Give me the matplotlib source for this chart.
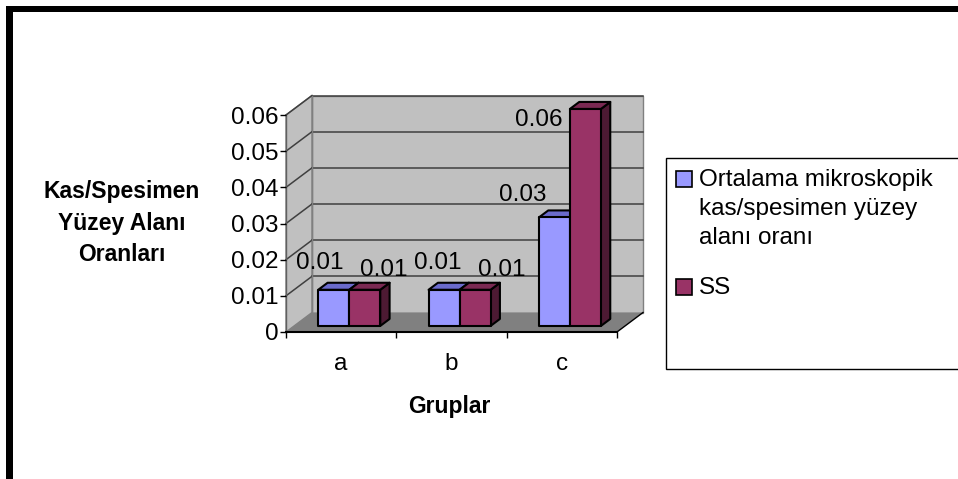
import matplotlib.pyplot as plt
from matplotlib.patches import Polygon, Rectangle
from matplotlib.lines import Line2D

# chart data
groups = ['a', 'b', 'c']
series_names = ['Ortalama mikroskopik\nkas/spesimen yüzey\nalanı oranı', 'SS']
ortalama = [0.01, 0.01, 0.03]
ss = [0.01, 0.01, 0.06]
y_ticks = [0, 0.01, 0.02, 0.03, 0.04, 0.05, 0.06]
y_tick_labels = ['0', '0.01', '0.02', '0.03', '0.04', '0.05', '0.06']

plt.rcParams['font.family'] = ['Liberation Sans', 'DejaVu Sans']

W, H = 958, 479
fig = plt.figure(figsize=(W / 100, H / 100), dpi=100)


def fx(px):
    return px / W


def fy(py):
    return 1 - py / H


# front plane of the 3d box
left, right, top, bottom = 286, 617, 115, 332
ax = fig.add_axes([fx(left), fy(bottom), (right - left) / W, (bottom - top) / H])
ax.set_xlim(0, 3)
ax.set_ylim(0, 0.06)
ax.patch.set_visible(False)
for s in ['top', 'right', 'left']:
    ax.spines[s].set_visible(False)
ax.spines['bottom'].set_linewidth(1.5)
ax.spines['bottom'].set_zorder(6)

ux = (right - left) / 3.0          # px per category
uy = (bottom - top) / 0.06         # px per unit value
DX = 26 / ux                        # depth offset in data units
DY = 19.5 / uy
ymax = 0.06

wall = '#c0c0c0'
grid = '#404040'

# back wall, left wall, floor
ax.add_patch(Polygon([(DX, DY), (3 + DX, DY), (3 + DX, ymax + DY), (DX, ymax + DY)],
                     closed=True, fc=wall, ec='#808080', lw=1, clip_on=False, zorder=1))
ax.add_patch(Polygon([(0, 0), (DX, DY), (DX, ymax + DY), (0, ymax)],
                     closed=True, fc=wall, ec='#808080', lw=1, clip_on=False, zorder=1))
for v in y_ticks[1:]:
    ax.add_line(Line2D([DX, 3 + DX], [v + DY, v + DY], color=grid, lw=1.1, clip_on=False, zorder=1.5))
    ax.add_line(Line2D([0, DX], [v, v + DY], color=grid, lw=1.1, clip_on=False, zorder=1.5))
ax.add_line(Line2D([DX, DX], [DY, ymax + DY], color='#808080', lw=1, clip_on=False, zorder=1.5))
ax.add_line(Line2D([0, 0], [0, ymax], color='#606060', lw=1, clip_on=False, zorder=1.5))
ax.add_patch(Polygon([(0, 0), (3, 0), (3 + DX, DY), (DX, DY)],
                     closed=True, fc='#808080', ec='none', clip_on=False, zorder=2))
ax.add_line(Line2D([3, 3 + DX], [0, DY], color='black', lw=1, clip_on=False, zorder=2.5))

# bars
f0, fd = 0.31, 0.36       # depth start / thickness of bars as fraction of box depth
bw = 0.281
colors = [('#9999ff', '#6b6bcc', '#4d4d99'), ('#993366', '#7a2952', '#4d1a33')]


def bar3d(x0, h, cols, z):
    front, topc, side = cols
    ox, oy = f0 * DX, f0 * DY
    dx, dy = fd * DX, fd * DY
    x0 += ox
    x1 = x0 + bw
    kw = dict(ec='black', lw=1.5, joinstyle='round', clip_on=False, zorder=z)
    ax.add_patch(Polygon([(x1, oy), (x1 + dx, oy + dy), (x1 + dx, oy + h + dy), (x1, oy + h)],
                         fc=side, **kw))
    ax.add_patch(Polygon([(x0, oy + h), (x1, oy + h), (x1 + dx, oy + h + dy), (x0 + dx, oy + h + dy)],
                         fc=topc, **kw))
    ax.add_patch(Rectangle((x0, oy), bw, h, fc=front, **kw))


for i in range(len(groups)):
    bar3d(i + 0.5 - bw, ortalama[i], colors[0], 3 + i)
    bar3d(i + 0.5, ss[i], colors[1], 3.5 + i)

# value labels
lab_x = [[0.308, 0.888], [0.378, 0.958], [0.148, 0.293]]
lab_dy = [[0.0091, 0.0071], [0.0091, 0.0071], [0.0079, -0.0014]]
for i in range(len(groups)):
    for j, vals in enumerate([ortalama, ss]):
        ax.text(i + lab_x[i][j], vals[i] + lab_dy[i][j], f'{vals[i]:.2f}',
                ha='center', va='center', fontsize=17.5, zorder=10, clip_on=False)

# axes ticks
ax.set_yticks(y_ticks)
ax.set_yticklabels(y_tick_labels, fontsize=17.5)
ax.tick_params(axis='y', length=4.5, width=1, pad=1, color='black')
ax.set_xticks([0, 1, 2, 3])
ax.set_xticklabels([])
ax.set_xticks([0.5, 1.5, 2.5], minor=True)
ax.set_xticklabels(groups, minor=True, fontsize=17.5)
ax.tick_params(axis='x', which='major', length=4.5, width=1, color='black')
ax.tick_params(axis='x', which='minor', length=0, pad=15)

fig.text(fx(449), fy(406), 'Gruplar', ha='center', va='center', fontsize=16.5, fontweight='bold')
fig.text(fx(122), fy(223), 'Kas/Spesimen\nYüzey Alanı\nOranları', ha='center', va='center',
         multialignment='center', fontsize=16.5, fontweight='bold', linespacing=1.45)

# legend box
fig.add_artist(Rectangle((fx(666), fy(369)), fx(960) - fx(666), fy(158) - fy(369),
                         transform=fig.transFigure, fc='white', ec='black', lw=1))
leg_y = [179, 287]
for j, name in enumerate(series_names):
    fig.add_artist(Rectangle((fx(676), fy(leg_y[j] + 8)), 16 / W, 16 / H,
                             transform=fig.transFigure, fc=colors[j][0], ec='black', lw=1.2))
    fig.text(fx(699), fy(leg_y[j] - 10), name, ha='left', va='top', fontsize=17.5, linespacing=1.42)

# outer frame
fig.add_artist(Rectangle((fx(6), 0), 7 / W, fy(6), transform=fig.transFigure, fc='black', ec='none'))
fig.add_artist(Rectangle((fx(6), fy(12)), 1 - fx(6), 6 / H, transform=fig.transFigure, fc='black', ec='none'))

fig.savefig('out.png', dpi=100)
